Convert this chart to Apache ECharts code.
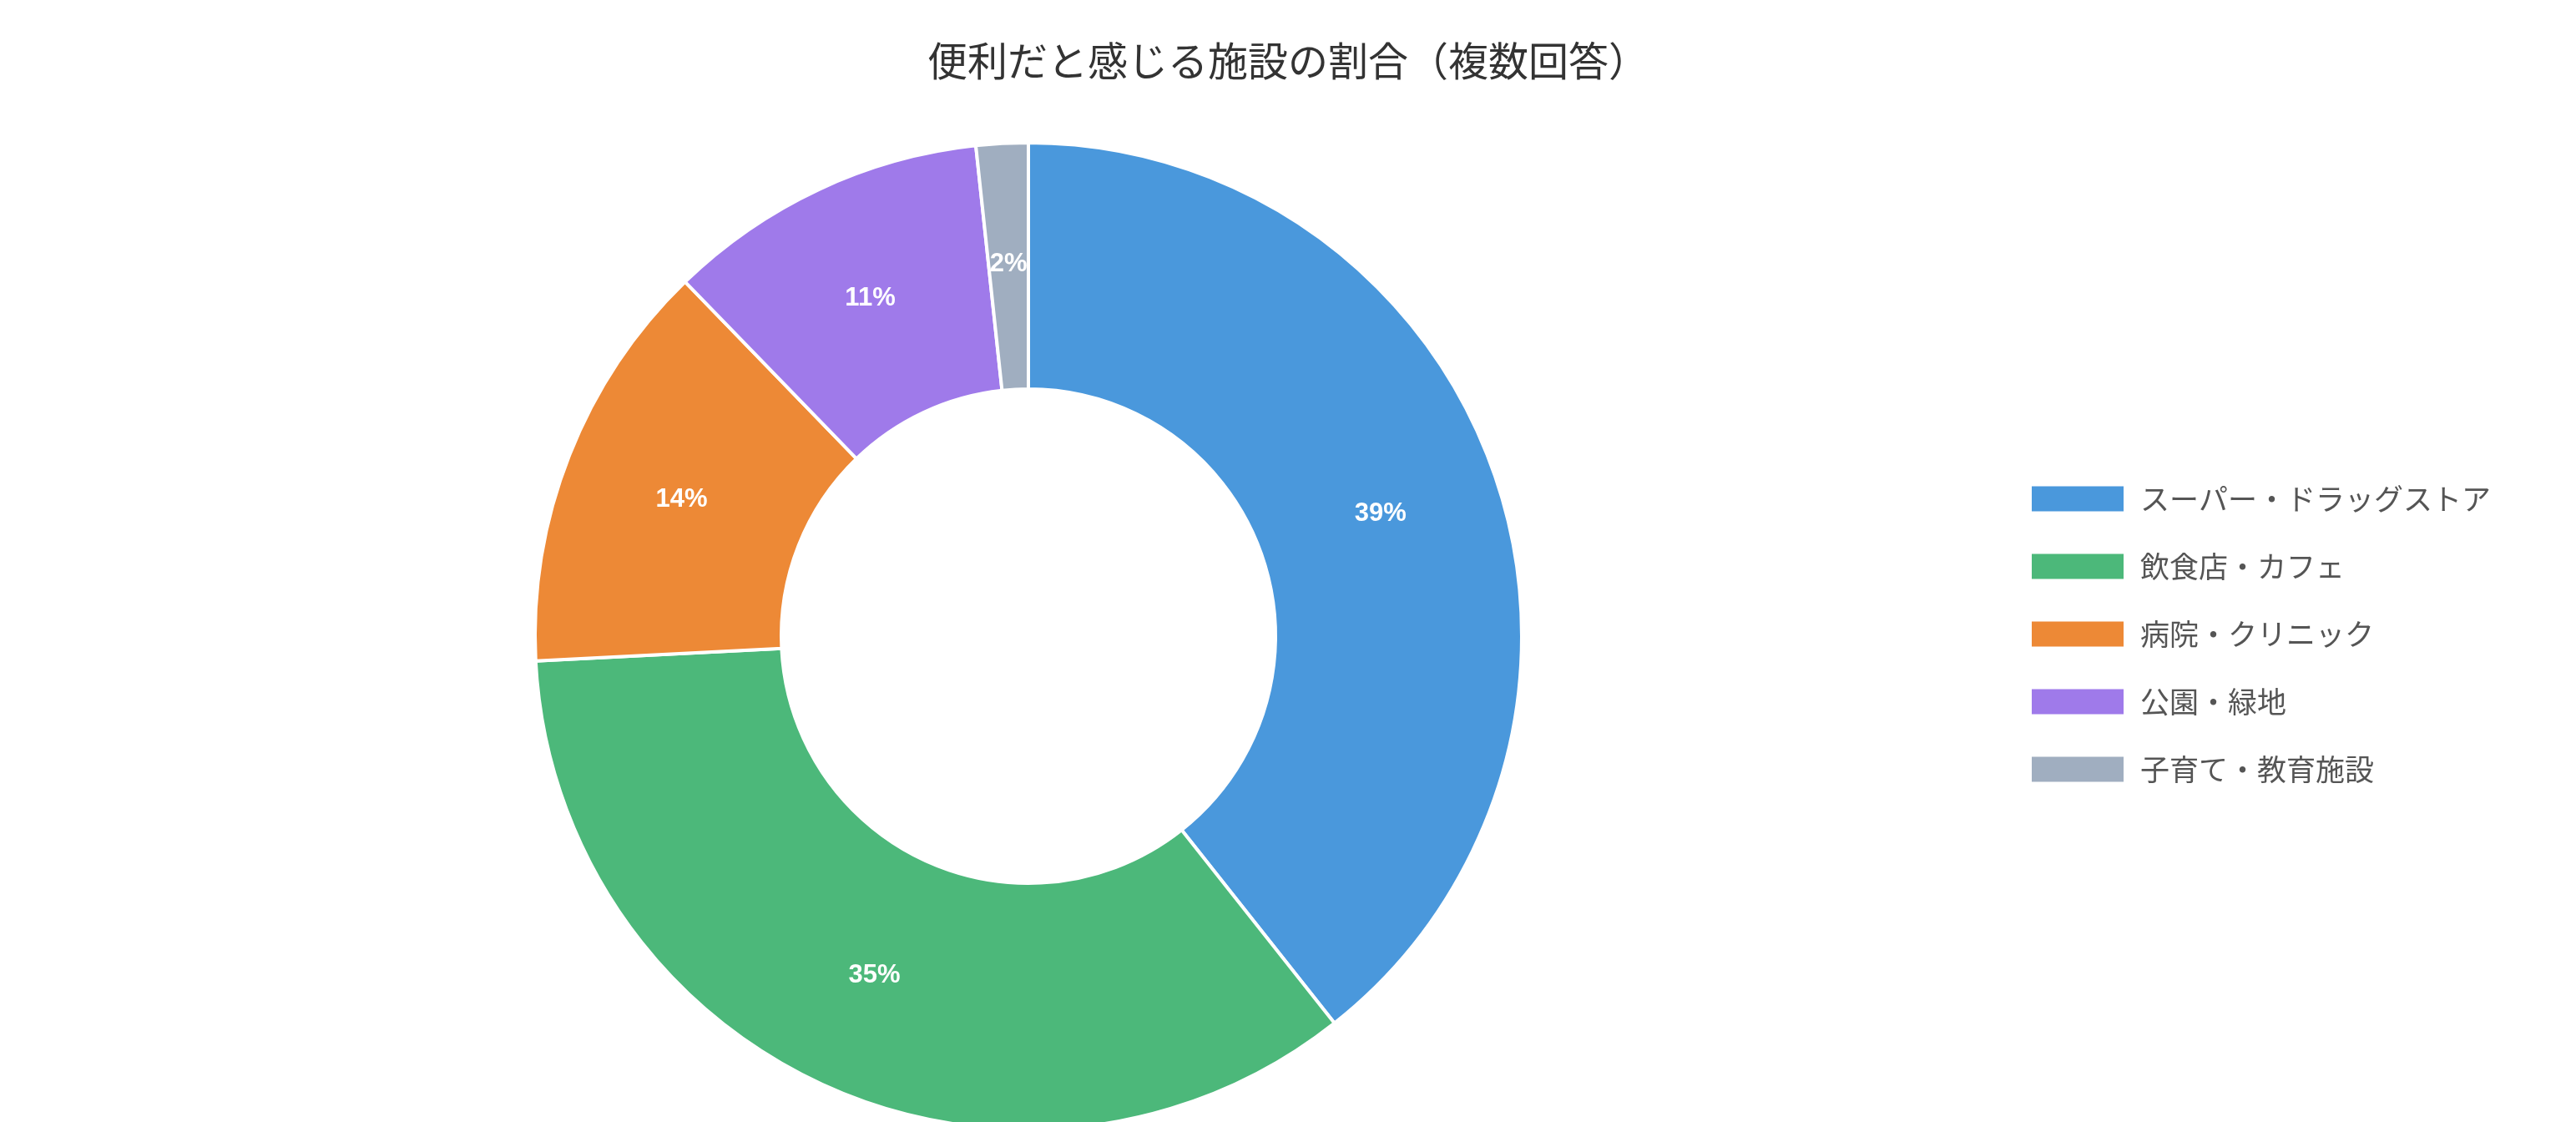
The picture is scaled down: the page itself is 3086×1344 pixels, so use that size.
<!DOCTYPE html>
<html>
<head>
<meta charset="utf-8">
<script src="https://cdn.jsdelivr.net/npm/echarts@6/dist/echarts.min.js"></script>
<style>
html, body { margin: 0; padding: 0; background: #fff; }
#chart { width: 3086px; height: 1344px; }
</style>
</head>
<body>
<div id="chart"></div>
<script>
var titleText = '便利だと感じる施設の割合（複数回答）';
var categories = ['スーパー・ドラッグストア', '飲食店・カフェ', '病院・クリニック', '公園・緑地', '子育て・教育施設'];
var values = [39.35, 34.85, 13.55, 10.55, 1.7];
var colors = ['#4A98DC', '#4CB87A', '#ED8936', '#9F7AEA', '#A0AEC0'];

var chart = echarts.init(document.getElementById('chart'));

var pieData = [];
for (var i = 0; i < categories.length; i++) {
	pieData.push({ name: categories[i], value: values[i] });
}

var option = {
	backgroundColor: '#ffffff',
	color: colors,
	title: {
		text: titleText,
		left: 'center',
		top: 44,
		textStyle: {
			fontFamily: '"Noto Sans CJK JP", sans-serif',
			fontSize: 48,
			fontWeight: 'normal',
			color: '#333333'
		}
	},
	legend: {
		orient: 'vertical',
		left: 2427,
		top: 575,
		itemWidth: 112,
		itemHeight: 32,
		itemGap: 46,
		icon: 'rect',
		textStyle: {
			fontFamily: '"Noto Sans CJK JP", sans-serif',
			fontSize: 35,
			color: '#555555',
			padding: [0, 0, 0, 14]
		},
		data: categories
	},
	series: [{
		type: 'pie',
		center: [1232, 762],
		radius: [296, 591],
		startAngle: 90,
		clockwise: true,
		avoidLabelOverlap: false,
		itemStyle: {
			borderColor: '#ffffff',
			borderWidth: 4
		},
		label: {
			show: true,
			position: 'inside',
			color: '#ffffff',
			fontFamily: '"Liberation Sans", Arial, sans-serif',
			fontWeight: 'bold',
			fontSize: 31,
			formatter: function (p) { return Math.round(p.percent) + '%'; }
		},
		labelLine: { show: false },
		emphasis: { scale: false },
		data: pieData
	}]
};
chart.setOption(option);
</script>
</body>
</html>
